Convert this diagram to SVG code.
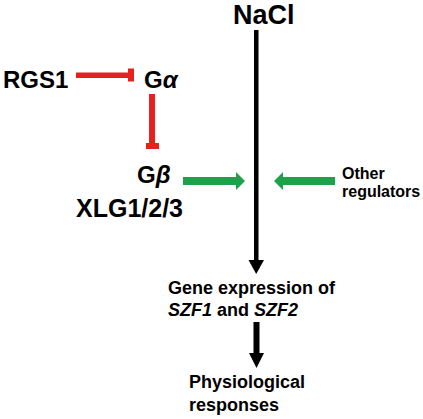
<svg xmlns="http://www.w3.org/2000/svg" width="423" height="419" viewBox="0 0 423 419">
<style>
text{font-family:"Liberation Sans",Arial,sans-serif;font-weight:bold;fill:#000}
.big{font-size:24px}
.mid{font-size:18px}
.sm{font-size:16px}
.red{fill:#e8201c}
.grn{fill:#1fa04a}
.blk{fill:#000}
</style>
<rect width="423" height="419" fill="#fff"/>
<g id="connectors">
  <rect class="blk" x="254" y="30" width="4.5" height="231"/>
  <polygon class="blk" points="248.5,260 264,260 256.2,274"/>
  <rect class="blk" x="253.5" y="322" width="6" height="32"/>
  <polygon class="blk" points="249,353 264,353 256.5,368"/>
  <rect class="red" x="76" y="72.5" width="54" height="5.5"/>
  <rect class="red" x="128" y="68.5" width="6" height="13"/>
  <rect class="red" x="149" y="94" width="6" height="52"/>
  <rect class="red" x="146" y="143" width="13" height="6"/>
  <polygon class="grn" points="183,177 236,177 236,172 245,181 236,190 236,185 183,185"/>
  <polygon class="grn" points="335,177 283,177 283,172 274,181 283,190 283,185 335,185"/>
</g>
<g id="nacl"><text class="big" x="233" y="24" style="font-size:27px">NaCl</text></g>
<g id="rgs1"><text class="big" x="3" y="88">RGS1</text></g>
<g id="galpha"><text class="big" x="144" y="88">G<tspan font-style="italic">α</tspan></text></g>
<g id="gbeta"><text class="big" x="137" y="183">G<tspan font-style="italic">β</tspan></text></g>
<g id="xlg"><text class="big" x="76" y="217" style="font-size:25px">XLG1/2/3</text></g>
<g id="other"><text class="sm" x="342" y="179">Other</text><text class="sm" x="342" y="197">regulators</text></g>
<g id="gene"><text class="mid" x="168" y="294">Gene expression of</text><text class="mid" x="168" y="316"><tspan font-style="italic">SZF1</tspan> and <tspan font-style="italic">SZF2</tspan></text></g>
<g id="resp"><text class="mid" x="189" y="388">Physiological</text><text class="mid" x="189" y="411">responses</text></g>
</svg>
